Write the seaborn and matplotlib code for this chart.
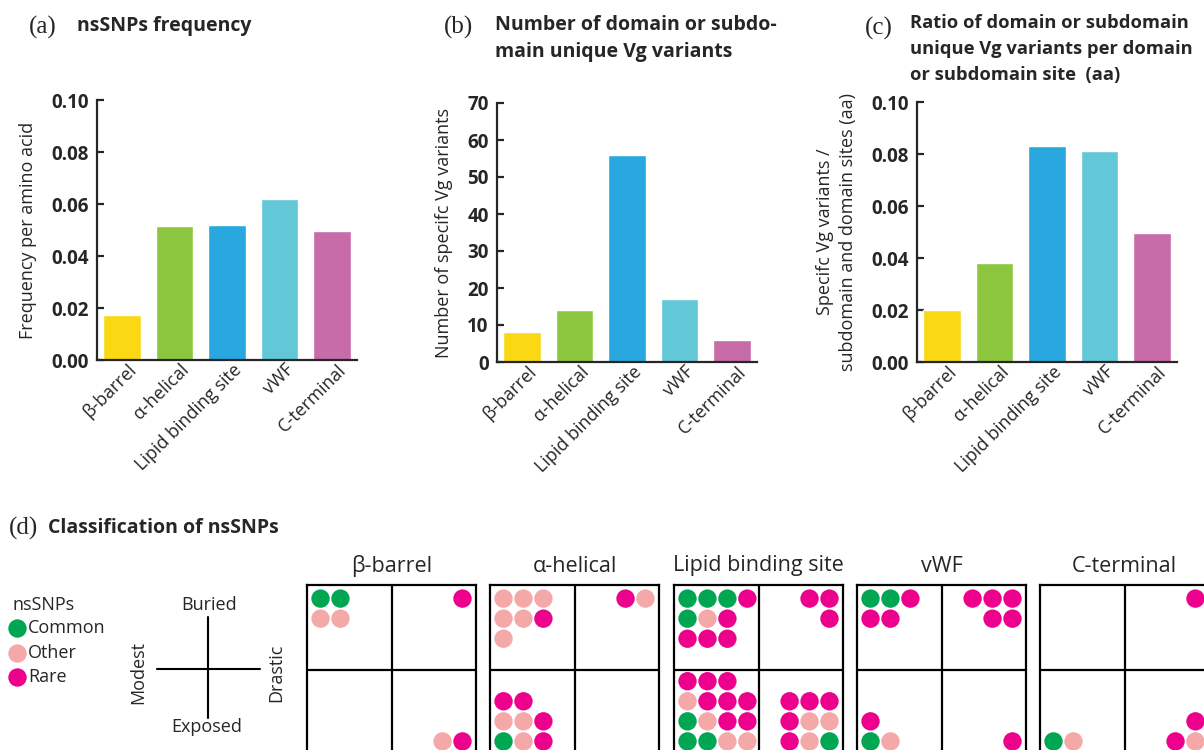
import matplotlib
matplotlib.use("Agg")
import matplotlib.pyplot as plt
import matplotlib.transforms as mtransforms
import seaborn as sns
import pandas as pd

# data
domains = ["β-barrel", "α-helical", "Lipid binding site", "vWF", "C-terminal"]
bar_colors = ["#FAD914", "#8CC63F", "#29A8E0", "#62C8D7", "#C76BA9"]

snp_freq = [0.0175, 0.0517, 0.0520, 0.0620, 0.0495]
variant_counts = [8, 14, 56, 17, 6]
variant_ratio = [0.0200, 0.0382, 0.0832, 0.0810, 0.0497]

snp_kinds = {"C": "Common", "O": "Other", "R": "Rare"}
snp_colors = {"Common": "#00A651", "Other": "#F4A9A8", "Rare": "#EC008C"}

# panel (d): rows of dots per quadrant, C=Common O=Other R=Rare
# rows run from the outer edge of the cell inwards
beta_barrel = {"buried_modest": ["CC", "OO"], "buried_drastic": ["R"],
               "exposed_modest": [], "exposed_drastic": ["OR"]}
alpha_helical = {"buried_modest": ["OOO", "OOR", "O"], "buried_drastic": ["RO"],
                 "exposed_modest": ["COR", "OOR", "RR"], "exposed_drastic": []}
lipid_binding = {"buried_modest": ["CCCR", "COR", "RRR"], "buried_drastic": ["RR", "R"],
                 "exposed_modest": ["CCOO", "CORR", "ORRR", "RRR"],
                 "exposed_drastic": ["ROC", "ROO", "RRR"]}
vwf = {"buried_modest": ["CCR", "RR"], "buried_drastic": ["RRR", "RR"],
       "exposed_modest": ["CO", "R"], "exposed_drastic": ["R"]}
c_terminal = {"buried_modest": [], "buried_drastic": ["R"],
              "exposed_modest": ["CO"], "exposed_drastic": ["RO", "R"]}
grid_data = [beta_barrel, alpha_helical, lipid_binding, vwf, c_terminal]

sns.set_style("ticks")
plt.rcParams['font.family'] = ['Open Sans', 'DejaVu Sans']
plt.rcParams['axes.linewidth'] = 1.6

W, H = 1204, 750
fig = plt.figure(figsize=(W / 100, H / 100), dpi=100)


def fx(x):
    return x / W


def fy(y):
    return 1 - y / H


def bar_panel(left, top, bottom, values, ymax, yticks, fmt, ylabel):
    ax = fig.add_axes([fx(left), fy(bottom), 260 / W, (bottom - top) / H])
    df = pd.DataFrame({"domain": domains, "value": values})
    sns.barplot(data=df, x="domain", y="value", hue="domain", palette=bar_colors,
                saturation=1, width=0.72, legend=False, ax=ax)
    sns.despine(ax=ax)
    ax.set_xlim(-0.48, 4.48)
    ax.set_ylim(0, ymax)
    ax.set_yticks(yticks)
    ax.set_yticklabels([fmt.format(v) for v in yticks], fontweight="bold", fontsize=13.5)
    ax.tick_params(axis="y", direction="in", length=5, width=1.6, pad=6)
    ax.tick_params(axis="x", length=0, pad=5)
    ax.set_xticks(range(len(domains)))
    ax.set_xticklabels(domains, rotation=45, ha="right", va="center",
                       rotation_mode="anchor", fontsize=13)
    shift = mtransforms.ScaledTranslation(0.12, 0.0, fig.dpi_scale_trans)
    for lab in ax.get_xticklabels():
        lab.set_transform(lab.get_transform() + shift)
    ax.set_xlabel("")
    ax.set_ylabel(ylabel, fontsize=13, labelpad=10, linespacing=1.35)
    return ax


bar_panel(97, 100, 360, snp_freq, 0.10, [0, 0.02, 0.04, 0.06, 0.08, 0.10], "{:.2f}",
          "Frequency per amino acid")
bar_panel(497, 103, 362, variant_counts, 70, list(range(0, 71, 10)), "{:d}",
          "Number of specifc Vg variants")
bar_panel(917, 102, 362, variant_ratio, 0.10, [0, 0.02, 0.04, 0.06, 0.08, 0.10], "{:.2f}",
          "Specifc Vg variants /\nsubdomain and domain sites (aa)")

# panel titles
serif = ["Liberation Serif", "DejaVu Serif"]
tsize = 14
csize = 13.2
fig.text(fx(29), fy(27), "(a)", family=serif, fontsize=18, va="center")
fig.text(fx(77), fy(26), "nsSNPs frequency", fontsize=tsize, fontweight="bold", va="center")
fig.text(fx(444), fy(27), "(b)", family=serif, fontsize=18, va="center")
fig.text(fx(495), fy(25), "Number of domain or subdo-", fontsize=tsize, fontweight="bold", va="center")
fig.text(fx(495), fy(52), "main unique Vg variants", fontsize=tsize, fontweight="bold", va="center")
fig.text(fx(865), fy(28), "(c)", family=serif, fontsize=18, va="center")
fig.text(fx(910), fy(23), "Ratio of domain or subdomain", fontsize=csize, fontweight="bold", va="center")
fig.text(fx(910), fy(49), "unique Vg variants per domain", fontsize=csize, fontweight="bold", va="center")
fig.text(fx(910), fy(75), "or subdomain site  (aa)", fontsize=csize, fontweight="bold", va="center")
fig.text(fx(9), fy(528), "(d)", family=serif, fontsize=18, va="center")
fig.text(fx(48), fy(528), "Classification of nsSNPs", fontsize=tsize, fontweight="bold", va="center")

# panel (d) grids
pad, step = 0.16, 0.236
grid_lefts = [307, 490, 674, 857, 1040]
for name, cells, left in zip(domains, grid_data, grid_lefts):
    ax = fig.add_axes([fx(left), fy(755), 169 / W, 170 / H])
    recs = []
    for key, dot_rows in cells.items():
        top = key.startswith("buried")
        right = key.endswith("drastic")
        for r, row in enumerate(dot_rows):
            n = len(row)
            for c, code in enumerate(row):
                x = 2 - pad - (n - 1 - c) * step if right else pad + c * step
                y = pad + r * step if top else 2 - pad - r * step
                recs.append((x, y, snp_kinds[code]))
    df = pd.DataFrame(recs, columns=["x", "y", "kind"])
    sns.scatterplot(data=df, x="x", y="y", hue="kind", palette=snp_colors, s=175,
                    linewidth=0, legend=False, ax=ax, clip_on=False)
    ax.axhline(1, color="black", lw=1.6)
    ax.axvline(1, color="black", lw=1.6)
    ax.set_xlim(0, 2)
    ax.set_ylim(2, 0)
    ax.set_xticks([])
    ax.set_yticks([])
    ax.set_xlabel("")
    ax.set_ylabel("")
    for sp in ax.spines.values():
        sp.set_linewidth(1.6)
        sp.set_color("black")
    fig.text(fx(left + 84.5), fy(566), name, ha="center", va="center", fontsize=15.5)

# legend and quadrant key
key = fig.add_axes([0, 0, 1, 1])
key.set_xlim(0, W)
key.set_ylim(H, 0)
key.axis("off")
key.text(12, 605, "nsSNPs", fontsize=13, va="center")
for yy, kind in zip([628, 653, 677], ["Common", "Other", "Rare"]):
    key.scatter([17], [yy], s=175, color=snp_colors[kind], linewidth=0)
    key.text(28, yy, kind, fontsize=13, va="center")
key.plot([208, 208], [617, 718], color="black", lw=1.5)
key.plot([157, 260], [669, 669], color="black", lw=1.5)
key.text(209, 605, "Buried", fontsize=13, ha="center", va="center")
key.text(207, 727, "Exposed", fontsize=13, ha="center", va="center")
key.text(138, 672, "Modest", fontsize=13, ha="center", va="center", rotation=90)
key.text(276, 673, "Drastic", fontsize=13, ha="center", va="center", rotation=90)

fig.savefig("out.png", dpi=100)
